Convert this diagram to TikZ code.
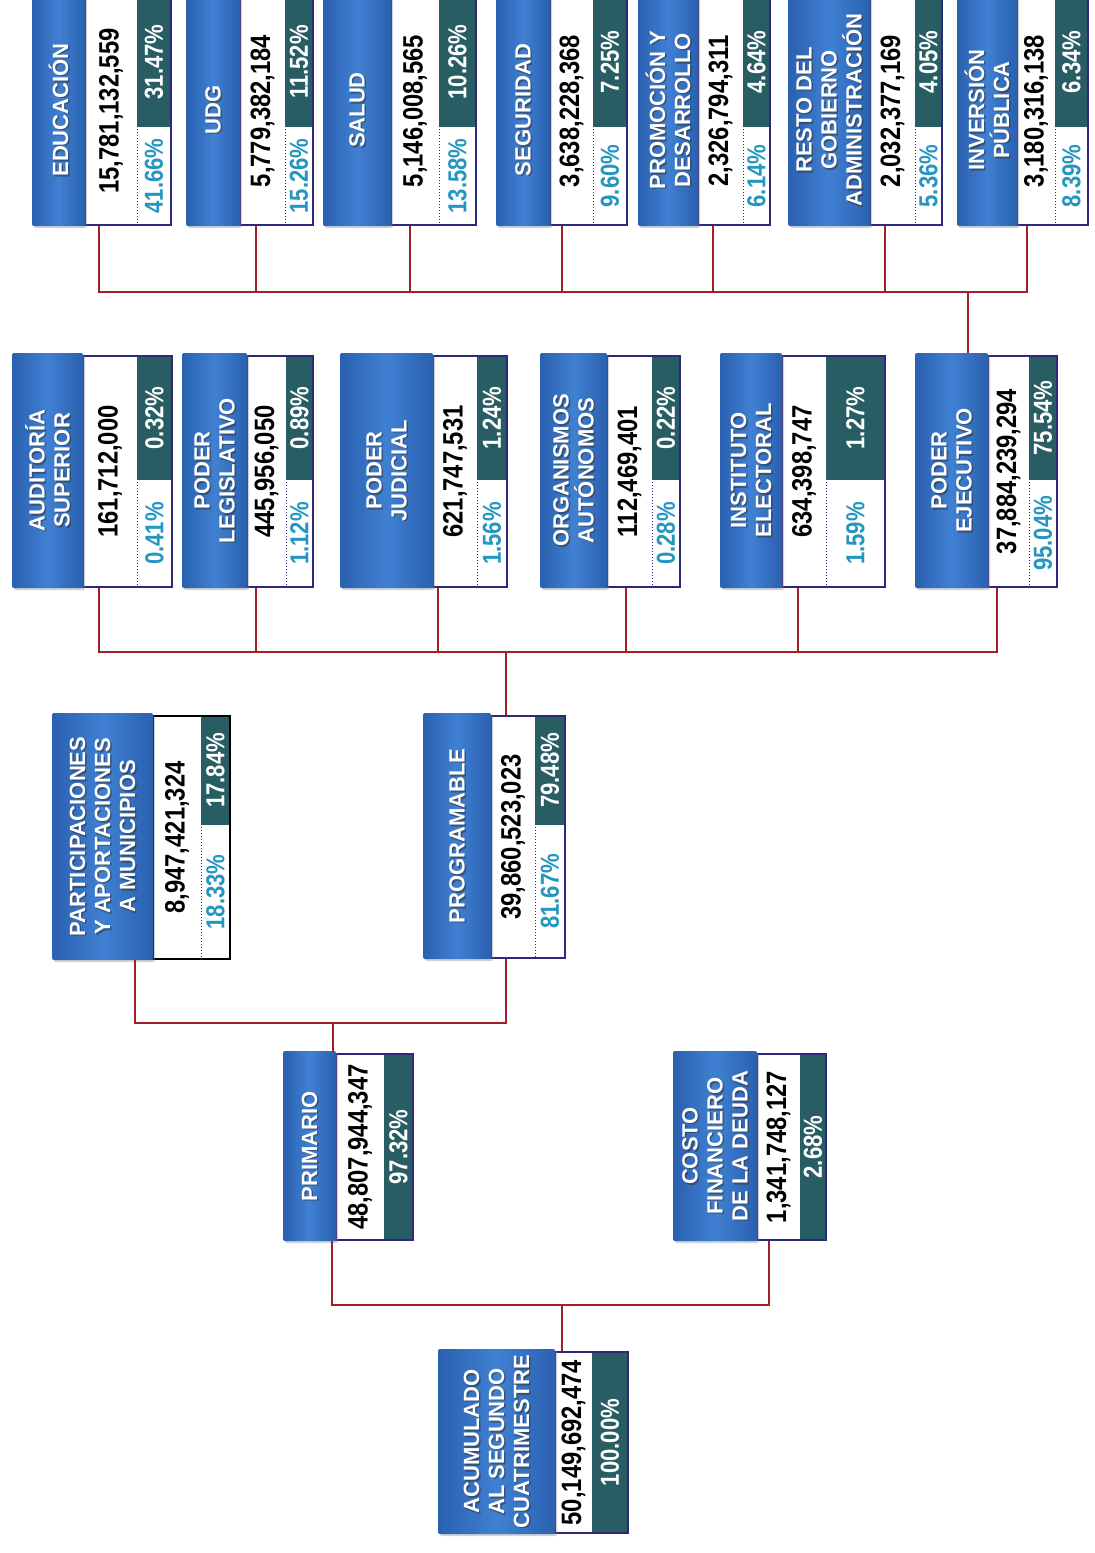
\documentclass[tikz,border=0pt]{standalone}
\usepackage{fontspec}
\setmainfont{Liberation Sans}
\newfontfamily\cifrafont[FakeStretch=0.85]{Liberation Sans}
\usepackage{tikz}
\usetikzlibrary{calc, shadows}

\definecolor{azulA}{RGB}{64,128,210}
\definecolor{azulB}{RGB}{42,96,176}
\definecolor{verdeosc}{RGB}{40,94,99}
\definecolor{cian}{RGB}{36,150,192}
\definecolor{marino}{RGB}{44,40,122}
\definecolor{guinda}{RGB}{163,30,38}

\tikzset{
  etiqueta/.style={rounded corners=2pt, left color=azulB, right color=azulB, middle color=azulA,
    drop shadow={opacity=0.35, shadow xshift=2pt, shadow yshift=-2pt}, inner sep=0pt, outer sep=0pt},
  rotulo/.style={rotate=90, align=center, text=white, font=\bfseries\fontsize{22}{25}\selectfont, inner sep=0pt},
  rotulo sombra/.style={rotulo, text=black!80, opacity=0.55},
  marco/.style={draw=marino, line width=2pt, fill=white, inner sep=0pt},
  cifra/.style={rotate=90, font=\cifrafont\bfseries\fontsize{28}{30}\selectfont, inner sep=0pt},
  pct/.style={rotate=90, font=\cifrafont\bfseries\fontsize{26}{28}\selectfont, inner sep=0pt},
  punteado/.style={draw=marino, dotted, line width=1pt},
  enlace/.style={draw=guinda, line width=2.5pt},
}

% #1 name, #2 blue left, #3 blue right, #4 dotted x, #5 right, #6 top, #7 bottom, #8 label, #9 amount
\newcommand{\caja}[9]{%
  \pgfmathsetmacro{\anchoM}{#5-#3}%
  \pgfmathsetmacro{\altoM}{#7-#6}%
  \pgfmathsetmacro{\anchoE}{#3-#2}%
  \pgfmathsetmacro{\altoE}{#7-#6+4}%
  \node[marco, minimum width=\anchoM pt, minimum height=\altoM pt] (#1-n) at ({(#3+#5)/2},{(#6+#7)/2}) {};
  \coordinate (#1-p) at (#4,#6);
  \coordinate (#1-q) at (#5,#7);
  \draw[punteado] (#1-p) -- (#4,#7);
  \node[cifra] at ({(#3+#4)/2},{(#6+#7)/2}) {#9};
  \node[etiqueta, minimum width=\anchoE pt, minimum height=\altoE pt] (#1) at ({(#2+#3)/2},{(#6+#7)/2-1}) {};
  \node[rotulo sombra] at ($(#1.center)+(1.5,1.5)$) {#8};
  \node[rotulo] at (#1.center) {#8};
}

% split percentage column: #1 name, #2 y split, #3 upper, #4 lower
\newcommand{\pctdos}[4]{%
  \coordinate (#1-s) at (#1-p |- 0,#2);
  \coordinate (#1-t) at (#1-q |- 0,#2);
  \fill[verdeosc] ([yshift=-1pt]#1-p) rectangle ([xshift=-1pt]#1-t);
  \node[pct, text=white] at ($(#1-p)!0.5!(#1-t)$) {#3};
  \node[pct, text=cian] at ($(#1-s)!0.5!(#1-q)$) {#4};
}

% full percentage column
\newcommand{\pctuno}[2]{%
  \fill[verdeosc] ([yshift=-1pt]#1-p) rectangle ([shift={(-1pt,1pt)}]#1-q);
  \node[pct, text=white] at ($(#1-p)!0.5!(#1-q)$) {#2};
}

\begin{document}
\begin{tikzpicture}[x=1pt, y=-1pt]
  \useasboundingbox[fill=white] (0,0) rectangle (1095,1553);

  % poder ejecutivo
  \caja{edu}{32}{85}{137}{171}{-3}{225}{EDUCACIÓN}{15,781,132,559}
  \pctdos{edu}{127}{31.47\%}{41.66\%}
  \caja{udg}{186}{240}{285}{313}{-3}{225}{UDG}{5,779,382,184}
  \pctdos{udg}{127}{11.52\%}{15.26\%}
  \caja{salud}{323}{391}{439}{476}{-3}{225}{SALUD}{5,146,008,565}
  \pctdos{salud}{127}{10.26\%}{13.58\%}
  \caja{seg}{496}{550}{593}{627}{-3}{225}{SEGURIDAD}{3,638,228,368}
  \pctdos{seg}{127}{7.25\%}{9.60\%}
  \caja{prom}{638}{698}{743}{770}{-3}{225}{PROMOCIÓN Y\\DESARROLLO}{2,326,794,311}
  \pctdos{prom}{127}{4.64\%}{6.14\%}
  \caja{resto}{788}{870}{915}{942}{-3}{225}{RESTO DEL\\GOBIERNO\\ADMINISTRACIÓN}{2,032,377,169}
  \pctdos{resto}{127}{4.05\%}{5.36\%}
  \caja{inv}{957}{1017}{1055}{1088}{-3}{225}{INVERSIÓN\\PÚBLICA}{3,180,316,138}
  \pctdos{inv}{127}{6.34\%}{8.39\%}

  % programable
  \caja{aud}{12}{83}{137}{172}{356}{587}{AUDITORÍA\\SUPERIOR}{161,712,000}
  \pctdos{aud}{480}{0.32\%}{0.41\%}
  \caja{leg}{182}{247}{286}{313}{356}{587}{PODER\\LEGISLATIVO}{445,956,050}
  \pctdos{leg}{480}{0.89\%}{1.12\%}
  \caja{jud}{340}{433}{477}{507}{356}{587}{PODER\\JUDICIAL}{621,747,531}
  \pctdos{jud}{480}{1.24\%}{1.56\%}
  \caja{org}{540}{607}{652}{680}{356}{587}{ORGANISMOS\\AUTÓNOMOS}{112,469,401}
  \pctdos{org}{480}{0.22\%}{0.28\%}
  \caja{ine}{720}{782}{826}{885}{356}{587}{INSTITUTO\\ELECTORAL}{634,398,747}
  \pctdos{ine}{480}{1.27\%}{1.59\%}
  \caja{ejec}{915}{988}{1029}{1057}{356}{587}{PODER\\EJECUTIVO}{37,884,239,294}
  \pctdos{ejec}{480}{75.54\%}{95.04\%}

  % primario
  \begin{scope}[marco/.append style={draw=black}]
    \caja{part}{52}{153}{201}{230}{716}{959}{PARTICIPACIONES\\Y APORTACIONES\\A MUNICIPIOS}{8,947,421,324}
    \pctdos{part}{825}{17.84\%}{18.33\%}
  \end{scope}
  \caja{prog}{423}{491}{535}{565}{716}{958}{PROGRAMABLE}{39,860,523,023}
  \pctdos{prog}{825}{79.48\%}{81.67\%}

  % total
  \caja{prim}{283}{336}{384}{413}{1054}{1240}{PRIMARIO}{48,807,944,347}
  \pctuno{prim}{97.32\%}
  \caja{costo}{673}{757}{800}{826}{1054}{1240}{COSTO\\FINANCIERO\\DE LA DEUDA}{1,341,748,127}
  \pctuno{costo}{2.68\%}
  \caja{acum}{438}{555}{592}{628}{1352}{1533}{ACUMULADO\\AL SEGUNDO\\CUATRIMESTRE}{50,149,692,474}
  \pctuno{acum}{100.00\%}

  % connector points
  \coordinate (bus4) at (0,292);
  \coordinate (bus3) at (0,652);
  \coordinate (bus2) at (0,1023);
  \coordinate (bus1) at (0,1305);
  \coordinate (edu-c) at ([xshift=15pt]edu-n.south west);
  \coordinate (udg-c) at ([xshift=17pt]udg-n.south west);
  \coordinate (salud-c) at ([xshift=20pt]salud-n.south west);
  \coordinate (seg-c) at ([xshift=13pt]seg-n.south west);
  \coordinate (prom-c) at ([xshift=16pt]prom-n.south west);
  \coordinate (resto-c) at ([xshift=16pt]resto-n.south west);
  \coordinate (inv-c) at ([xshift=11pt]inv-n.south west);
  \coordinate (aud-c) at ([xshift=17pt]aud-n.south west);
  \coordinate (leg-c) at ([xshift=10pt]leg-n.south west);
  \coordinate (jud-c) at ([xshift=6pt]jud-n.south west);
  \coordinate (org-c) at ([xshift=20pt]org-n.south west);
  \coordinate (ine-c) at ([xshift=17pt]ine-n.south west);
  \coordinate (ejec-c) at ([xshift=10pt]ejec-n.south west);
  \coordinate (ejec-t) at ([xshift=-20pt]ejec.north east);
  \coordinate (part-c) at ([xshift=-17pt]part-n.south west);
  \coordinate (prog-c) at ([xshift=16pt]prog-n.south west);
  \coordinate (prog-t) at ([xshift=16pt]prog-n.north west);
  \coordinate (prim-c) at ([xshift=-3pt]prim-n.south west);
  \coordinate (prim-t) at ([xshift=-3pt]prim.north east);
  \coordinate (costo-c) at ([xshift=13pt]costo-n.south west);
  \coordinate (acum-t) at ([xshift=8pt]acum-n.north west);

  % connectors
  \draw[enlace] (edu-c) |- (inv-c |- bus4) -- (inv-c);
  \draw[enlace] (udg-c) -- (udg-c |- bus4);
  \draw[enlace] (salud-c) -- (salud-c |- bus4);
  \draw[enlace] (seg-c) -- (seg-c |- bus4);
  \draw[enlace] (prom-c) -- (prom-c |- bus4);
  \draw[enlace] (resto-c) -- (resto-c |- bus4);
  \draw[enlace] (ejec-t) -- (ejec-t |- bus4);

  \draw[enlace] (aud-c) |- (ejec-c |- bus3) -- (ejec-c);
  \draw[enlace] (leg-c) -- (leg-c |- bus3);
  \draw[enlace] (jud-c) -- (jud-c |- bus3);
  \draw[enlace] (org-c) -- (org-c |- bus3);
  \draw[enlace] (ine-c) -- (ine-c |- bus3);
  \draw[enlace] (prog-t) -- (prog-t |- bus3);

  \draw[enlace] (part-c) |- (prog-c |- bus2) -- (prog-c);
  \draw[enlace] (prim-t) -- (prim-t |- bus2);

  \draw[enlace] (prim-c) |- (costo-c |- bus1) -- (costo-c);
  \draw[enlace] (acum-t) -- (acum-t |- bus1);
\end{tikzpicture}
\end{document}
